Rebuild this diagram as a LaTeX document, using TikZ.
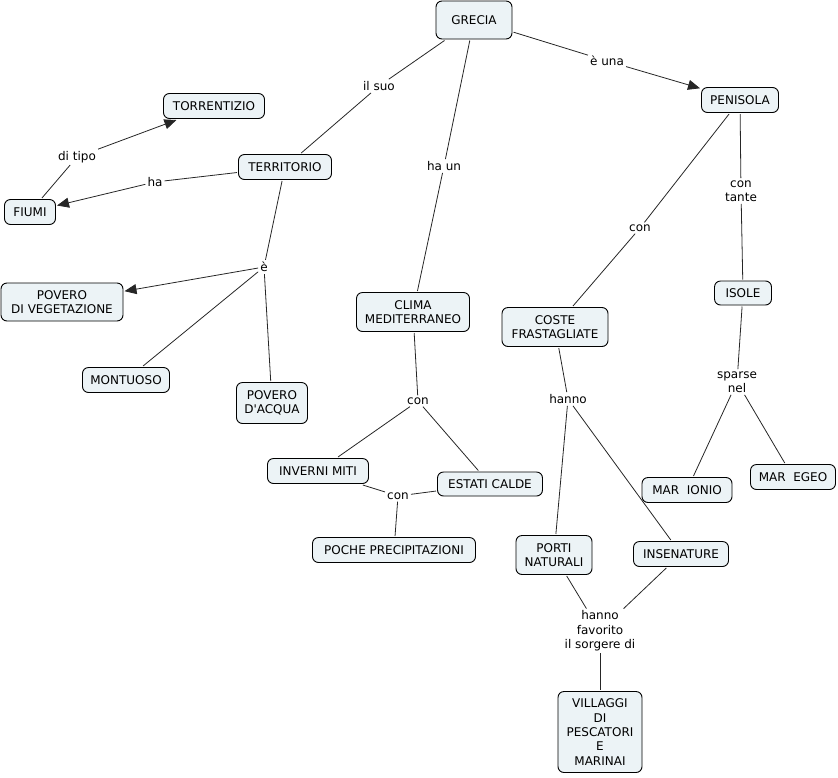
\documentclass[tikz,border=0pt]{standalone}
\usepackage{fontspec}
\setmainfont{DejaVu Sans}
\usetikzlibrary{arrows.meta}
\begin{document}
\begin{tikzpicture}[x=1pt,y=-1pt,
  concept/.style={draw=black, line width=0.9pt, fill=custfill, rounded corners=6pt,
    align=center, inner sep=0pt, outer sep=1.5pt, font=\fontsize{12pt}{14.4pt}\selectfont},
  linklabel/.style={inner sep=2pt, align=center, font=\fontsize{12pt}{14.4pt}\selectfont},
  link/.style={line width=0.8pt, draw=black!85},
  arrowlink/.style={link, -{Triangle[length=12pt,width=10pt]}}]
\definecolor{custfill}{RGB}{236,243,246}
\useasboundingbox (0,0) rectangle (838,777);
% concepts
\node[concept, minimum width=76, minimum height=38] (grecia) at (474,20) {GRECIA};
\node[concept, minimum width=77, minimum height=25] (penisola) at (740,100) {PENISOLA};
\node[concept, minimum width=101, minimum height=25] (torrentizio) at (214,106) {TORRENTIZIO};
\node[concept, minimum width=93, minimum height=25] (territorio) at (285,167) {TERRITORIO};
\node[concept, minimum width=51, minimum height=25] (fiumi) at (30,212) {FIUMI};
\node[concept, minimum width=122, minimum height=38] (poveroveg) at (62,302) {POVERO\\DI VEGETAZIONE};
\node[concept, minimum width=87, minimum height=25] (montuoso) at (126,380) {MONTUOSO};
\node[concept, minimum width=71, minimum height=41] (poveroacqua) at (272,403) {POVERO\\D\textquotesingle ACQUA};
\node[concept, minimum width=113, minimum height=39] (clima) at (413,312) {CLIMA\\MEDITERRANEO};
\node[concept, minimum width=101, minimum height=25] (inverni) at (318,471) {INVERNI MITI};
\node[concept, minimum width=105, minimum height=24] (estati) at (490,484) {ESTATI CALDE};
\node[concept, minimum width=163, minimum height=25] (poche) at (394,550) {POCHE PRECIPITAZIONI};
\node[concept, minimum width=106, minimum height=39] (coste) at (555,327) {COSTE\\FRASTAGLIATE};
\node[concept, minimum width=57, minimum height=24] (isole) at (743,293) {ISOLE};
\node[concept, minimum width=90, minimum height=25] (ionio) at (687,490) {MAR\ \ IONIO};
\node[concept, minimum width=85, minimum height=25] (egeo) at (793,477) {MAR\ \ EGEO};
\node[concept, minimum width=76, minimum height=39] (porti) at (554,555) {PORTI\\NATURALI};
\node[concept, minimum width=95, minimum height=25] (insenature) at (681,554) {INSENATURE};
\node[concept, minimum width=84, minimum height=81] (villaggi) at (600,732) {VILLAGGI\\DI\\PESCATORI\\E\\MARINAI};
% link phrases
\node[linklabel] (ilsuo) at (379,86) {il suo};
\node[linklabel] (haun) at (444,166) {ha un};
\node[linklabel] (euna) at (607,61) {è una};
\node[linklabel] (ditipo) at (77,157) {di tipo};
\node[linklabel] (ha) at (155,182) {ha};
\node[linklabel] (e) at (264,267) {è};
\node[linklabel] (concoste) at (640,228) {con};
\node[linklabel] (contante) at (741,191) {con\\tante};
\node[linklabel] (conclima) at (418,401) {con};
\node[linklabel] (coninverni) at (398,496) {con};
\node[linklabel] (hanno) at (568,399) {hanno};
\node[linklabel] (sparse) at (737,382) {sparse\\nel};
\node[linklabel] (favorito) at (600,631) {hanno\\favorito\\il sorgere di};
% connectors
\draw[link] (grecia) -- (ilsuo);
\draw[link] (ilsuo) -- (territorio);
\draw[link] (grecia) -- (haun);
\draw[link] (haun) -- (clima);
\draw[link] (grecia) -- (euna);
\draw[arrowlink] (euna) -- (penisola);
\draw[link] (territorio) -- (ha);
\draw[arrowlink] (ha) -- (fiumi);
\draw[link] (fiumi) -- (ditipo);
\draw[arrowlink] (ditipo) -- (torrentizio);
\draw[link] (territorio) -- (e);
\draw[arrowlink] (e) -- (poveroveg);
\draw[link] (e) -- (montuoso);
\draw[link] (e) -- (poveroacqua);
\draw[link] (clima) -- (conclima);
\draw[link] (conclima) -- (inverni);
\draw[link] (conclima) -- (estati);
\draw[link] (inverni) -- (coninverni);
\draw[link] (estati) -- (coninverni);
\draw[link] (coninverni) -- (poche);
\draw[link] (penisola) -- (concoste);
\draw[link] (concoste) -- (coste);
\draw[link] (penisola) -- (contante);
\draw[link] (contante) -- (isole);
\draw[link] (isole) -- (sparse);
\draw[link] (sparse) -- (ionio);
\draw[link] (sparse) -- (egeo);
\draw[link] (coste) -- (hanno);
\draw[link] (hanno) -- (porti);
\draw[link] (hanno) -- (insenature);
\draw[link] (porti) -- (favorito);
\draw[link] (insenature) -- (favorito);
\draw[link] (favorito) -- (villaggi);
\end{tikzpicture}
\end{document}
